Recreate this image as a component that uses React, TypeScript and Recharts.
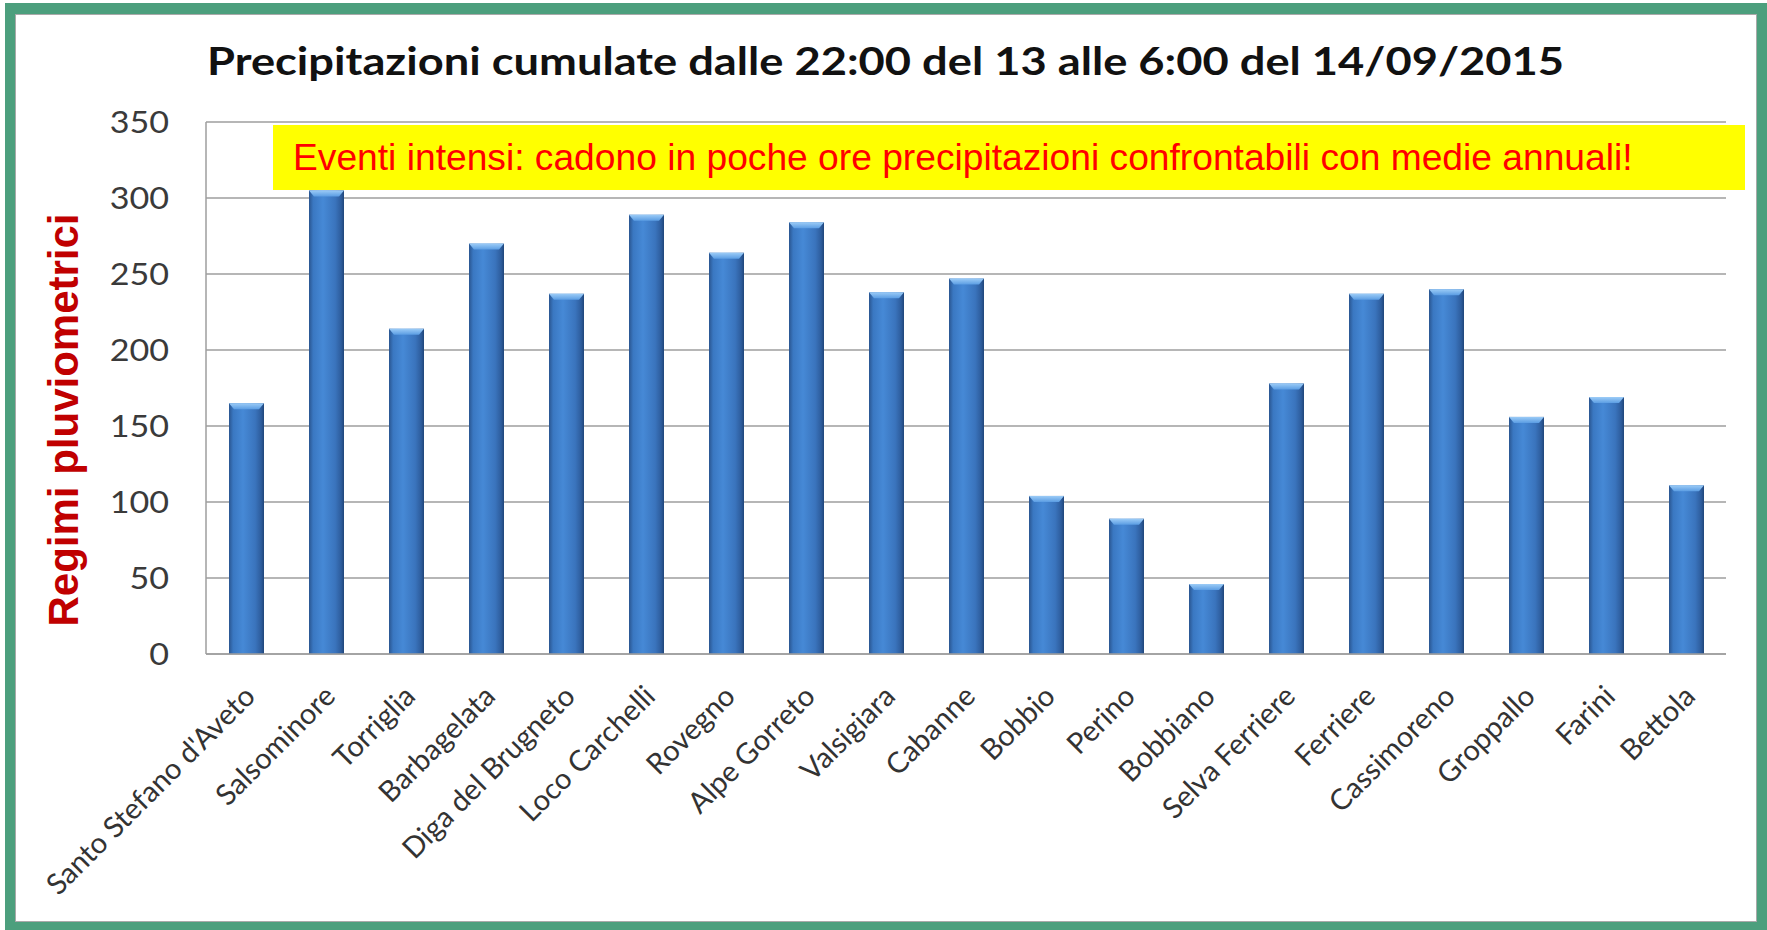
import { BarChart, Bar, XAxis, YAxis, CartesianGrid } from "recharts";

const stations = [
  "Santo Stefano d'Aveto",
  "Salsominore",
  "Torriglia",
  "Barbagelata",
  "Diga del Brugneto",
  "Loco Carchelli",
  "Rovegno",
  "Alpe Gorreto",
  "Valsigiara",
  "Cabanne",
  "Bobbio",
  "Perino",
  "Bobbiano",
  "Selva Ferriere",
  "Ferriere",
  "Cassimoreno",
  "Groppallo",
  "Farini",
  "Bettola",
];

const rainfall = [165, 305, 214, 270, 237, 289, 264, 284, 238, 247, 104, 89, 46, 178, 237, 240, 156, 169, 111];

const yTicks = [0, 50, 100, 150, 200, 250, 300, 350];

const chartTitle = "Precipitazioni cumulate dalle 22:00 del 13 alle 6:00 del 14/09/2015";
const noteText = "Eventi intensi: cadono in poche ore precipitazioni confrontabili con medie annuali!";
const yLabel = "Regimi pluviometrici";

const chartData = stations.map((name, i) => ({ name, value: rainfall[i] }));

// cylinder-ish bar like the Excel "bevel" style
const BevelBar = (props: any) => {
  const { x, y, width, height } = props;
  if (!height || height <= 0) return null;
  const inset = Math.min(5, width / 6);
  return (
    <g>
      <rect x={x} y={y} width={width} height={height} fill="url(#barGrad)" />
      <polygon
        points={`${x},${y} ${x + width},${y} ${x + width - inset},${y + 6} ${x + inset},${y + 6}`}
        fill="url(#capGrad)"
      />
    </g>
  );
};

const StationTick = (props: any) => {
  const { x, y, payload } = props;
  return (
    <text
      x={0}
      y={0}
      transform={`translate(${x + 11}, ${y + 44}) rotate(-45)`}
      textAnchor="end"
      fontFamily="Lato, sans-serif"
      fontSize={29}
      fill="#333333"
    >
      {payload.value}
    </text>
  );
};

// the original text is slightly stretched sideways
const ValueTick = (props: any) => {
  const { x, y, payload } = props;
  return (
    <text
      x={0}
      y={0}
      dy="0.355em"
      transform={`translate(${x}, ${y}) scale(1.1, 1)`}
      textAnchor="end"
      fontFamily="Lato, sans-serif"
      fontSize={31}
      fill="#3a3a3a"
    >
      {payload.value}
    </text>
  );
};

export default function App() {
  return (
    <div
      style={{
        position: "absolute",
        left: 0,
        top: 0,
        width: 1767,
        height: 930,
        background: "#ffffff",
        overflow: "hidden",
      }}
    >
      <svg width={0} height={0} style={{ position: "absolute" }}>
        <defs>
          <linearGradient id="barGrad" x1="0" y1="0" x2="1" y2="0">
            <stop offset="0%" stopColor="#2a5590" />
            <stop offset="12%" stopColor="#3a78c2" />
            <stop offset="40%" stopColor="#4689d6" />
            <stop offset="75%" stopColor="#3a74bd" />
            <stop offset="92%" stopColor="#2d5c9c" />
            <stop offset="100%" stopColor="#20467a" />
          </linearGradient>
          <linearGradient id="capGrad" x1="0" y1="0" x2="0" y2="1">
            <stop offset="0%" stopColor="#9cccf7" />
            <stop offset="100%" stopColor="#5b9de3" />
          </linearGradient>
        </defs>
      </svg>

      {/* green frame */}
      <div
        style={{
          position: "absolute",
          left: 5,
          top: 3,
          width: 1762,
          height: 927,
          background: "#4c9f7d",
        }}
      />
      <div
        style={{
          position: "absolute",
          left: 15,
          top: 14,
          width: 1740,
          height: 906,
          background: "#ffffff",
          border: "1.5px solid #a9a9a9",
        }}
      />

      <div style={{ position: "absolute", left: 0, top: 0 }}>
        <BarChart
          width={1767}
          height={930}
          data={chartData}
          margin={{ top: 122, right: 41, bottom: 246, left: 126 }}
        >
          <CartesianGrid vertical={false} stroke="#9e9e9e" strokeWidth={1.5} />
          <XAxis
            dataKey="name"
            interval={0}
            height={30}
            tickLine={false}
            tickSize={0}
            tickMargin={0}
            axisLine={{ stroke: "#9e9e9e", strokeWidth: 1.5 }}
            tick={<StationTick />}
          />
          <YAxis
            width={80}
            domain={[0, 350]}
            ticks={yTicks}
            interval={0}
            tickLine={false}
            tickSize={0}
            tickMargin={37}
            axisLine={{ stroke: "#9e9e9e", strokeWidth: 1.5 }}
            tick={<ValueTick />}
          />
          <Bar dataKey="value" barSize={35} shape={<BevelBar />} isAnimationActive={false} />
        </BarChart>
      </div>

      <svg
        width={1767}
        height={930}
        style={{ position: "absolute", left: 0, top: 0, pointerEvents: "none" }}
      >
        <text
          x={207}
          y={75}
          textLength={1357}
          lengthAdjust="spacingAndGlyphs"
          fontFamily="Lato, sans-serif"
          fontWeight="bold"
          fontSize={39}
          fill="#111111"
        >
          {chartTitle}
        </text>
        <rect x={273} y={125} width={1472} height={65} fill="#ffff00" />
        <text
          x={293}
          y={170}
          fontFamily="'Liberation Sans', Arial, sans-serif"
          fontSize={37.2}
          fill="#ff0000"
        >
          {noteText}
        </text>
        <text
          transform="translate(78, 420) rotate(-90)"
          textAnchor="middle"
          fontFamily="'Liberation Sans', Arial, sans-serif"
          fontWeight="bold"
          fontSize={42}
          fill="#c00000"
        >
          {yLabel}
        </text>
      </svg>
    </div>
  );
}
